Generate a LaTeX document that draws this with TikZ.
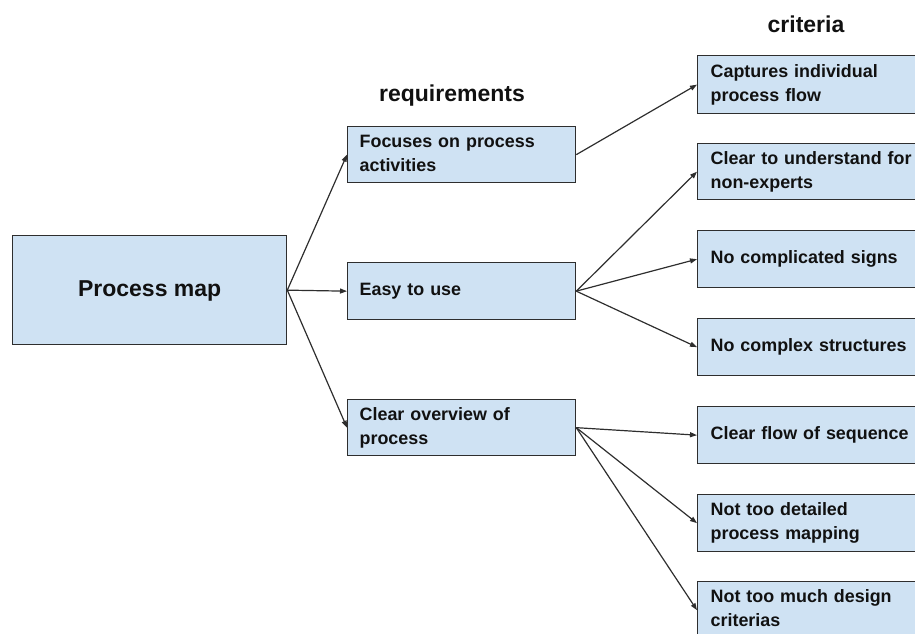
\documentclass[tikz,border=0pt]{standalone}
\usepackage{fontspec}
\setmainfont{Liberation Sans}
\usetikzlibrary{arrows.meta}
\definecolor{boxfill}{HTML}{CFE2F3}
\definecolor{boxline}{HTML}{2E2E2E}
\definecolor{ink}{HTML}{111111}
\begin{document}
\begin{tikzpicture}[x=1pt,y=-1pt,
  box/.style={draw=boxline, fill=boxfill, line width=1.3pt, anchor=north west,
    inner ysep=0pt, align=left, text=ink,
    font=\fontsize{17.9}{24}\selectfont\bfseries,
    execute at begin node={\rule{0pt}{13.5pt}},
    execute at end node={\rule[-4.5pt]{0pt}{4.5pt}}},
  reqbox/.style={box, text width=204pt, inner xsep=12pt},
  critbox/.style={box, text width=214pt, inner xsep=13pt},
  mainbox/.style={draw=boxline, fill=boxfill, line width=1.3pt, anchor=north west,
    inner sep=0pt, minimum width=274pt, minimum height=109pt, text=ink,
    text depth=0pt, text height=12pt,
    font=\fontsize{23}{28}\selectfont\bfseries},
  heading/.style={anchor=base, text=ink, font=\fontsize{23}{28}\selectfont\bfseries},
  link/.style={draw=boxline, line width=1.2pt,
    -{Triangle[length=7pt,width=5pt]}}
]
\useasboundingbox (0,0) rectangle (915,633);
\clip (0,0) rectangle (915,633);

% column headings
\node[heading] (hreq) at (452,101) {requirements};
\node[heading] (hcrit) at (806,32) {criteria};

% root
\node[mainbox] (pm) at (12,235) {Process map};

% requirements
\node[reqbox, minimum height=56pt] (r1) at (347,126) {Focuses on process\\activities};
\node[reqbox, minimum height=57pt] (r2) at (347,262) {Easy to use};
\node[reqbox, minimum height=56pt] (r3) at (347,399) {Clear overview of\\process};

% criteria
\node[critbox, minimum height=58pt] (c1) at (697,55)  {Captures individual\\process flow};
\node[critbox, minimum height=56pt] (c2) at (697,143) {Clear to understand for\\non-experts};
\node[critbox, minimum height=57pt] (c3) at (697,230) {No complicated signs};
\node[critbox, minimum height=57pt] (c4) at (697,318) {No complex structures};
\node[critbox, minimum height=57pt] (c5) at (697,406) {Clear flow of sequence};
\node[critbox, minimum height=57pt] (c6) at (697,494) {Not too detailed\\process mapping};
\node[critbox, minimum height=57pt] (c7) at (697,581) {Not too much design\\criterias};

% connectors
\draw[link] (pm.east) -- (r1.west);
\draw[link] (pm.east) -- (r2.west);
\draw[link] (pm.east) -- (r3.west);

\draw[link] (r1.east) -- (c1.west);
\draw[link] (r2.east) -- (c2.west);
\draw[link] (r2.east) -- (c3.west);
\draw[link] (r2.east) -- (c4.west);
\draw[link] (r3.east) -- (c5.west);
\draw[link] (r3.east) -- (c6.west);
\draw[link] (r3.east) -- (c7.west);
\end{tikzpicture}
\end{document}
